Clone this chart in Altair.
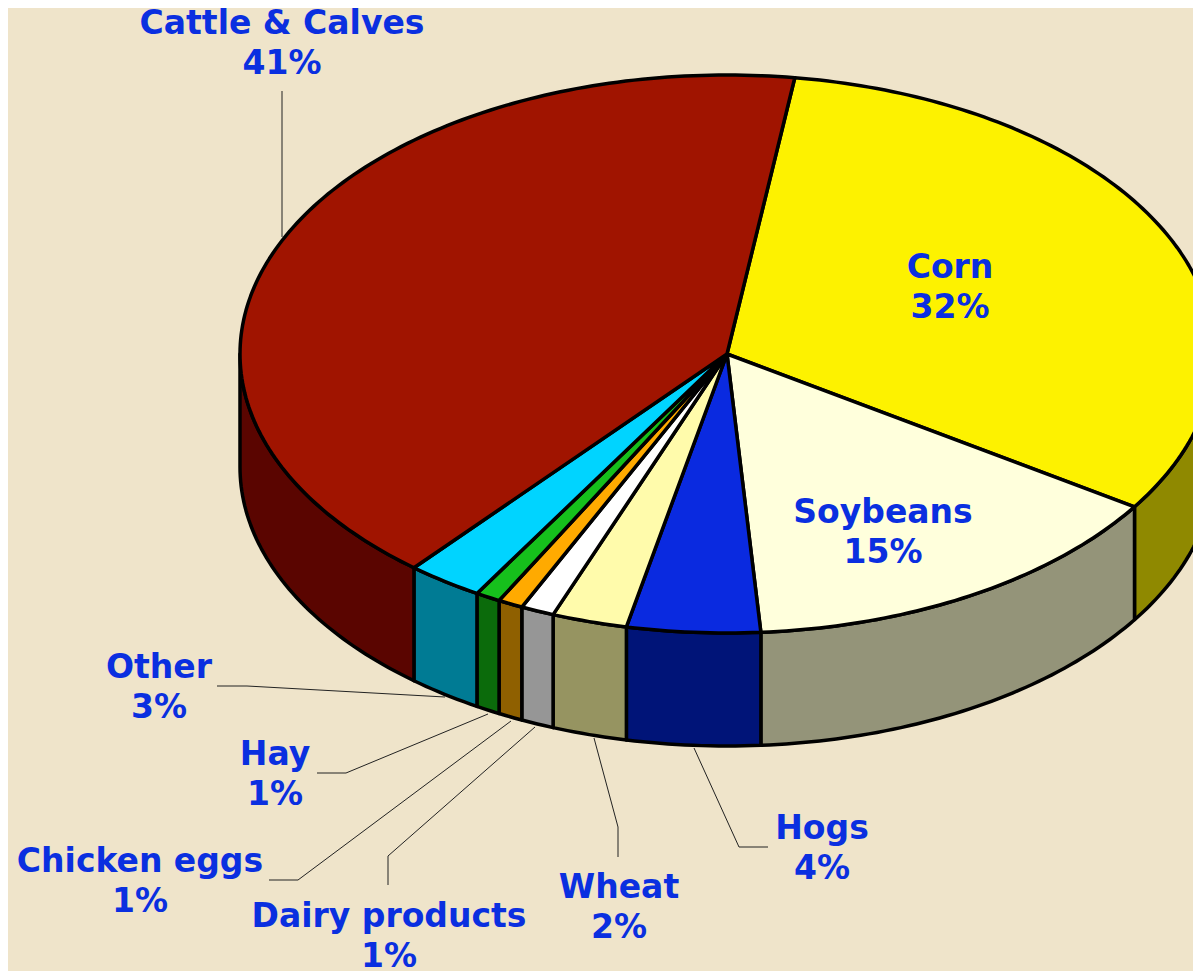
import math
import altair as alt

# Data
categories = ["Corn", "Soybeans", "Hogs", "Wheat", "Dairy products", "Chicken eggs", "Hay", "Other", "Cattle & Calves"]
shares = [32.0, 14.67, 4.42, 2.5, 1.11, 0.83, 0.83, 2.53, 41.11]
labels_pct = ["32%", "15%", "4%", "2%", "1%", "1%", "1%", "3%", "41%"]
top_colors = ["#FDF200", "#FFFFDC", "#0A2AE0", "#FFFBAB", "#FFFFFF", "#FFAA00", "#16C01C", "#00D4FF", "#A01400"]
side_colors = ["#8F8900", "#949479", "#001478", "#969461", "#969696", "#8F6000", "#0B6B0B", "#007B94", "#5A0500"]

# Layout (reference pixel positions, used only for annotation; y = centre of first line)
label_x = [950, 883, 822, 619, 389, 140, 275, 159, 282]
label_y = [268, 513, 829, 888, 917, 862, 755, 668, 24]
leaders = {
    "Cattle & Calves": [(282, 91), (282, 237)],
    "Other": [(217, 686), (247, 686), (445, 697)],
    "Hay": [(317, 773), (346, 773), (488, 714)],
    "Chicken eggs": [(269, 880), (298, 880), (511, 721)],
    "Dairy products": [(388, 885), (388, 856), (535, 727)],
    "Wheat": [(594, 738), (618, 827), (618, 857)],
    "Hogs": [(694, 748), (739, 847), (768, 847)],
}
W, H = 1185, 963
MARGIN_X = 8
MARGIN_Y = 11
CX, CY, RX = 727, 354, 487
TILT = 279 / 487
DEPTH = 113 / 487
START = 8.0


def pt(theta, drop=0.0):
    r = math.radians(theta)
    return [math.sin(r), -math.cos(r) * TILT + drop]


def arc(a, b, drop=0.0):
    n = max(2, int(abs(b - a) / 1.0) + 1)
    return [pt(a + (b - a) * i / n, drop) for i in range(n + 1)]


tops, sides = [], []
a = START
total = sum(shares)
for name, s, tc, sc in zip(categories, shares, top_colors, side_colors):
    b = a + 360 * s / total
    ring = [[0.0, 0.0]] + arc(a, b) + [[0.0, 0.0]]
    tops.append({"type": "Feature", "properties": {"name": name, "color": tc},
                 "geometry": {"type": "Polygon", "coordinates": [ring]}})
    lo, hi = max(a, 90.0), min(b, 270.0)
    if lo < hi:
        ring = arc(lo, hi) + arc(hi, lo, DEPTH)
        ring.append(ring[0])
        sides.append({"type": "Feature", "properties": {"name": name, "color": sc},
                      "geometry": {"type": "Polygon", "coordinates": [ring]}})
    a = b

proj = dict(type="identity", scale=RX, translate=[CX - MARGIN_X, CY - MARGIN_Y])

side_layer = alt.Chart(alt.Data(values=sides)).mark_geoshape(
    stroke="#000000", strokeWidth=3.5, strokeJoin="round"
).encode(fill=alt.Color("properties.color:N", scale=None, legend=None)).project(**proj)
top_layer = alt.Chart(alt.Data(values=tops)).mark_geoshape(
    stroke="#000000", strokeWidth=3.5, strokeJoin="round"
).encode(fill=alt.Color("properties.color:N", scale=None, legend=None)).project(**proj)

leader_rows = []
for name, pts in leaders.items():
    for i, (x, y) in enumerate(pts):
        leader_rows.append({"name": name, "i": i, "x": x - MARGIN_X, "y": y - MARGIN_Y})
leader_layer = alt.Chart(alt.Data(values=leader_rows)).mark_line(
    color="#222222", strokeWidth=1
).encode(
    x=alt.X("x:Q", scale=None, axis=None),
    y=alt.Y("y:Q", scale=None, axis=None),
    detail="name:N",
    order="i:Q",
)

text_rows = [
    {"t": f"{c}|{p}", "x": x - MARGIN_X, "y": y - MARGIN_Y}
    for c, p, x, y in zip(categories, labels_pct, label_x, label_y)
]
text_layer = alt.Chart(alt.Data(values=text_rows)).mark_text(
    font="DejaVu Sans", fontWeight="bold", fontSize=33, color="#0A2FE0",
    lineBreak="|", lineHeight=40, align="center", baseline="middle",
).encode(
    x=alt.X("x:Q", scale=None, axis=None),
    y=alt.Y("y:Q", scale=None, axis=None),
    text="t:N",
)

chart = alt.layer(side_layer, top_layer, leader_layer, text_layer).properties(
    width=W, height=H, padding=0, background="#EFE4CA"
).configure_view(stroke=None)

chart.save("out.html", embed_options={"renderer": "svg", "actions": False})
